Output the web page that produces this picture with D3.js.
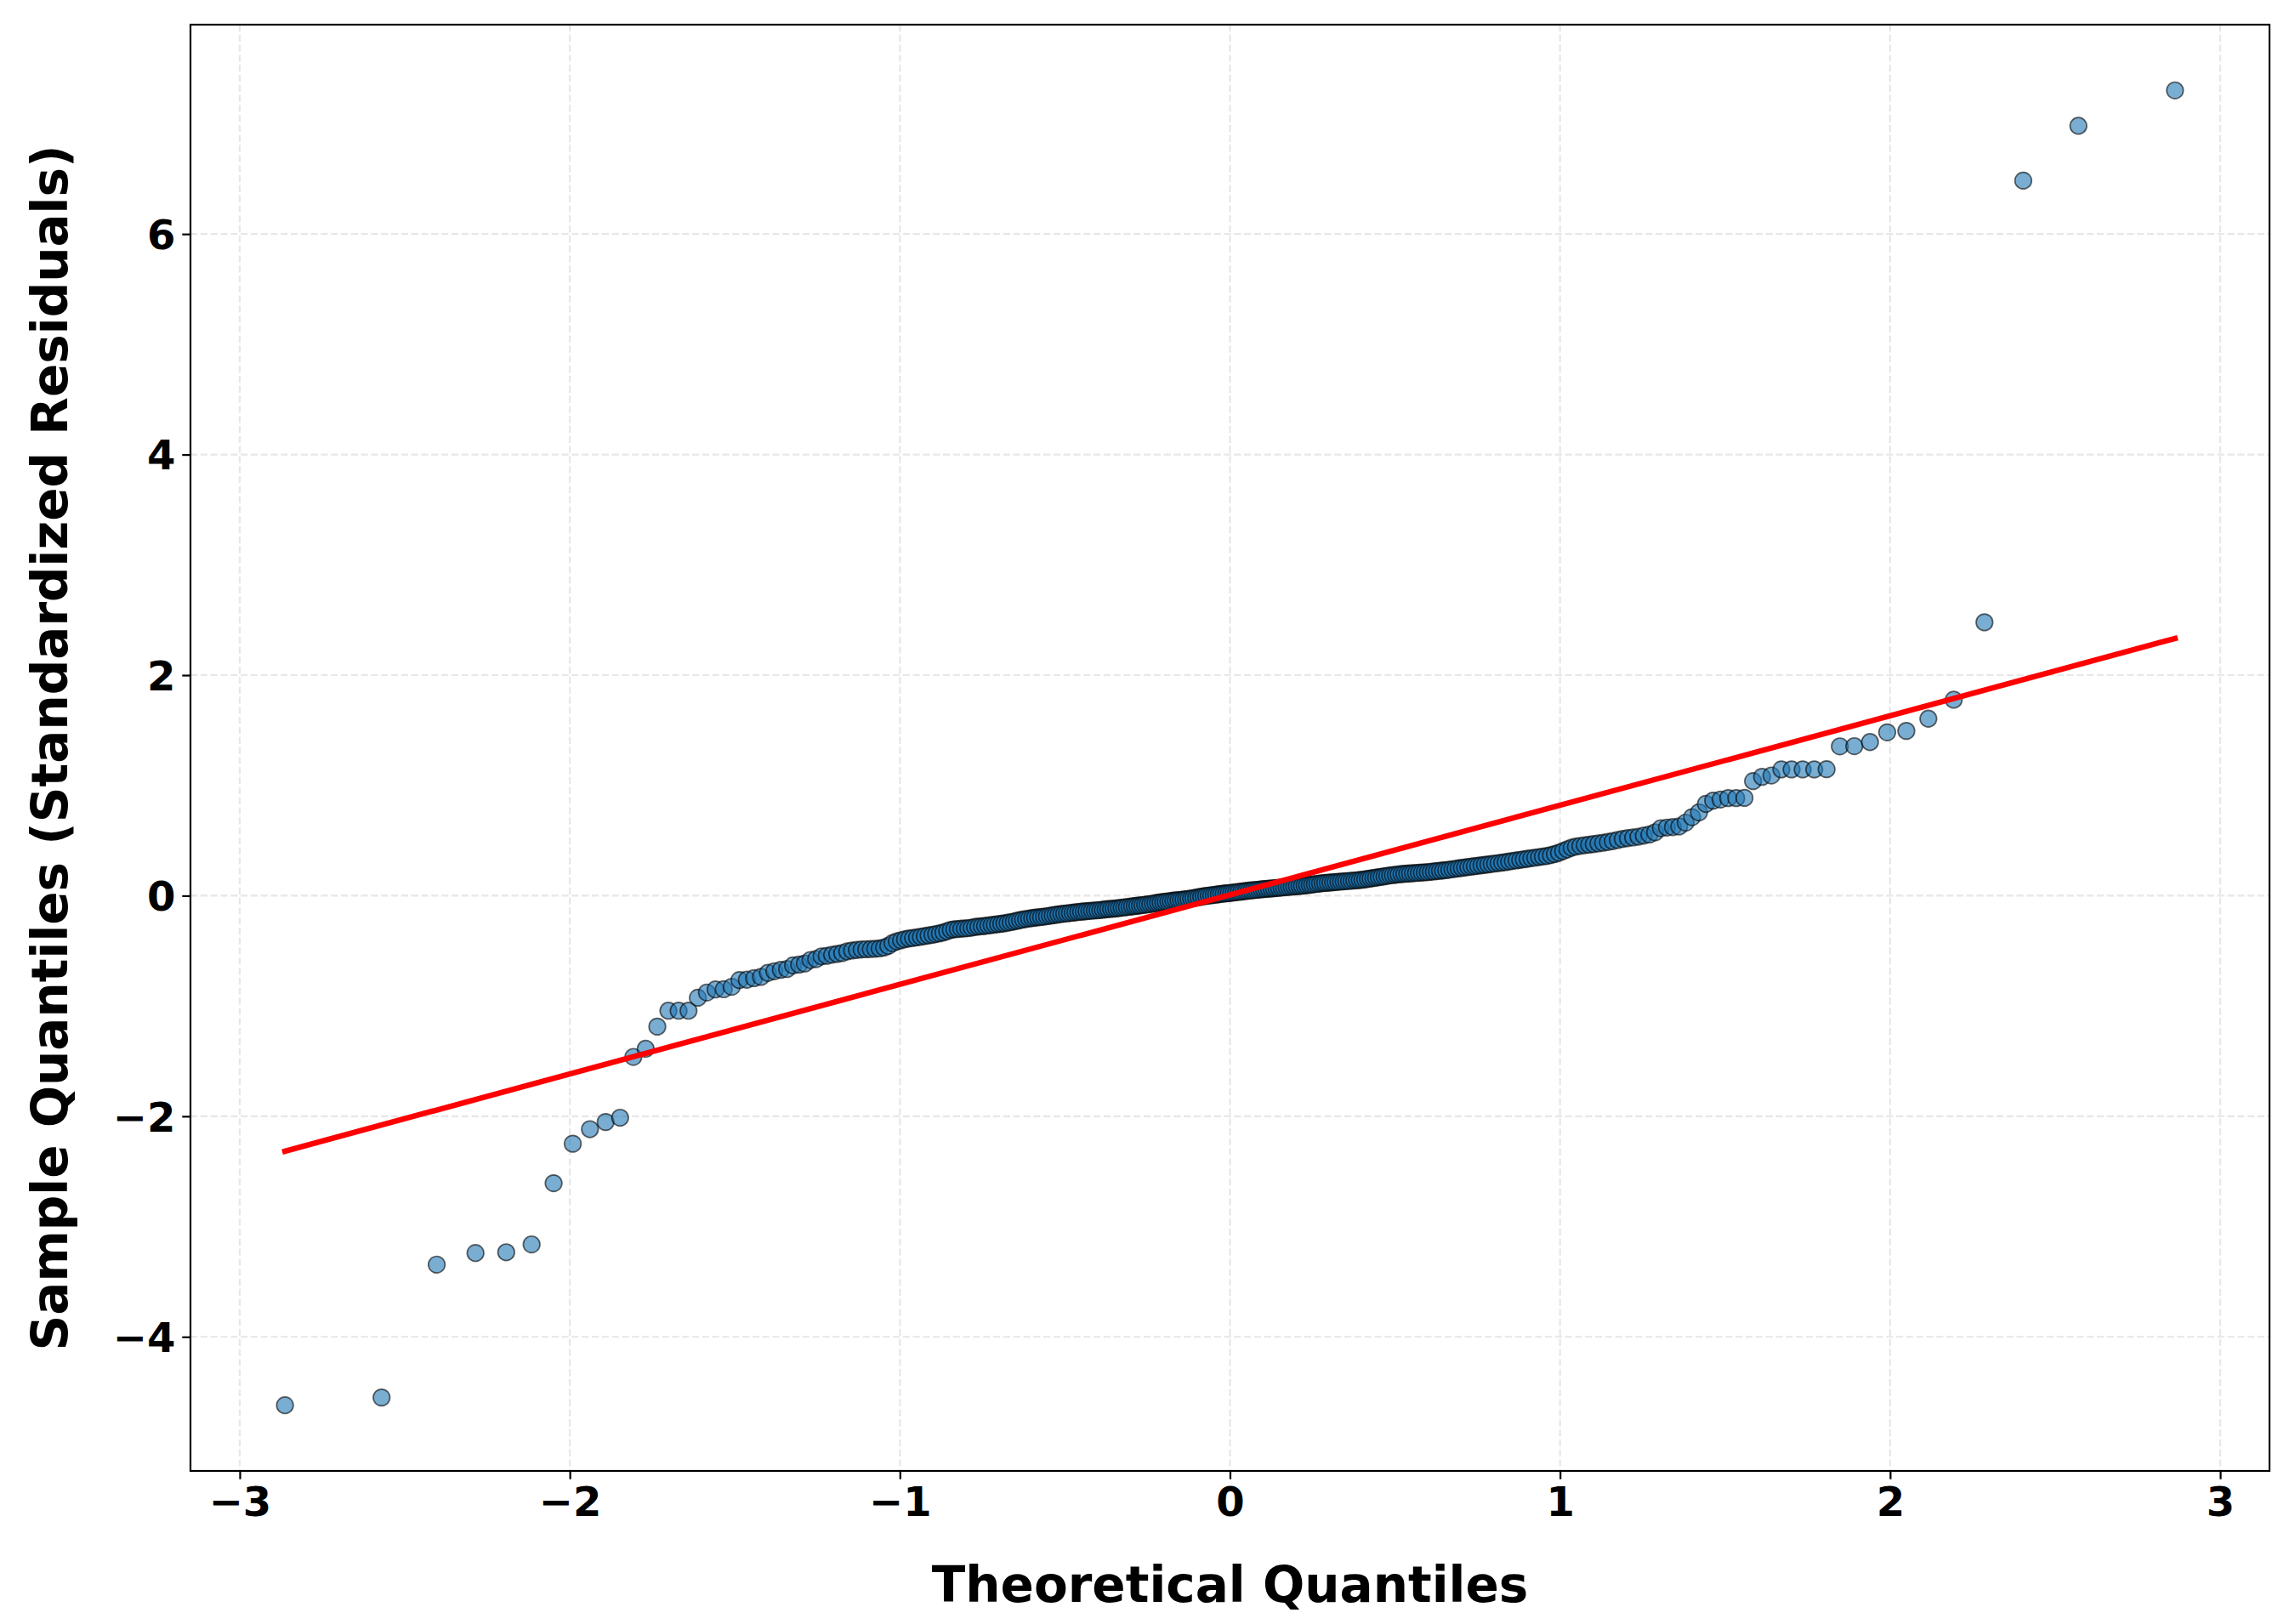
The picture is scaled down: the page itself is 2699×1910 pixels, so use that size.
<!DOCTYPE html>
<html><head><meta charset="utf-8">
<script src="https://cdn.jsdelivr.net/npm/d3@7"></script>
<style>
body{margin:0;background:#fff}
svg{display:block}
text{font-family:"DejaVu Sans",sans-serif;font-weight:bold}
</style>
</head><body><div id="chart"></div>
<script>
// Theoretical quantiles (x) read/, n = 330
const theoreticalQuantiles = [
-2.863,-2.5703,-2.4033,-2.2858,-2.1927,-2.1158,-2.0491,-1.9911,-1.9390,-1.8915,
-1.8477,-1.8075,-1.7702,-1.7350,-1.7014,-1.6704,-1.6404,-1.6120,-1.5848,-1.5586,
-1.5337,-1.5094,-1.4862,-1.4637,-1.4418,-1.4209,-1.3999,-1.3804,-1.3609,-1.3419,
-1.3237,-1.3054,-1.2880,-1.2709,-1.2538,-1.2375,-1.2214,-1.2053,-1.1899,-1.1748,
-1.1596,-1.1448,-1.1305,-1.1162,-1.1020,-1.0883,-1.0748,-1.0613,-1.0479,-1.0351,
-1.0222,-1.0094,-0.9967,-0.9845,-0.9723,-0.9601,-0.9480,-0.9364,-0.9247,-0.9131,
-0.9014,-0.8902,-0.8791,-0.8680,-0.8569,-0.8459,-0.8353,-0.8246,-0.8139,-0.8033,
-0.7929,-0.7827,-0.7724,-0.7622,-0.7519,-0.7420,-0.7321,-0.7222,-0.7124,-0.7025,
-0.6929,-0.6834,-0.6738,-0.6643,-0.6548,-0.6454,-0.6362,-0.6269,-0.6177,-0.6085,
-0.5993,-0.5903,-0.5814,-0.5724,-0.5635,-0.5545,-0.5457,-0.5370,-0.5283,-0.5196,
-0.5109,-0.5022,-0.4936,-0.4851,-0.4766,-0.4681,-0.4596,-0.4511,-0.4428,-0.4345,
-0.4262,-0.4179,-0.4096,-0.4013,-0.3931,-0.3850,-0.3768,-0.3687,-0.3606,-0.3524,
-0.3444,-0.3364,-0.3284,-0.3204,-0.3124,-0.3044,-0.2964,-0.2885,-0.2807,-0.2728,
-0.2649,-0.2570,-0.2491,-0.2414,-0.2336,-0.2258,-0.2180,-0.2102,-0.2025,-0.1947,
-0.1870,-0.1793,-0.1716,-0.1639,-0.1562,-0.1485,-0.1409,-0.1332,-0.1256,-0.1179,
-0.1103,-0.1026,-0.0950,-0.0874,-0.0798,-0.0722,-0.0646,-0.0569,-0.0493,-0.0417,
-0.0342,-0.0266,-0.0190,-0.0114,-0.0038,
0.0038,0.0114,0.0190,0.0266,0.0342,0.0417,0.0493,0.0569,0.0646,0.0722,
0.0798,0.0874,0.0950,0.1026,0.1103,0.1179,0.1256,0.1332,0.1409,0.1485,
0.1562,0.1639,0.1716,0.1793,0.1870,0.1947,0.2025,0.2102,0.2180,0.2258,
0.2336,0.2414,0.2491,0.2570,0.2649,0.2728,0.2807,0.2885,0.2964,0.3044,
0.3124,0.3204,0.3284,0.3364,0.3444,0.3524,0.3606,0.3687,0.3768,0.3850,
0.3931,0.4013,0.4096,0.4179,0.4262,0.4345,0.4428,0.4511,0.4596,0.4681,
0.4766,0.4851,0.4936,0.5022,0.5109,0.5196,0.5283,0.5370,0.5457,0.5545,
0.5635,0.5724,0.5814,0.5903,0.5993,0.6085,0.6177,0.6269,0.6362,0.6454,
0.6548,0.6643,0.6738,0.6834,0.6929,0.7025,0.7124,0.7222,0.7321,0.7420,
0.7519,0.7622,0.7724,0.7827,0.7929,0.8033,0.8139,0.8246,0.8353,0.8459,
0.8569,0.8680,0.8791,0.8902,0.9014,0.9131,0.9247,0.9364,0.9480,0.9601,
0.9723,0.9845,0.9967,1.0094,1.0222,1.0351,1.0479,1.0613,1.0748,1.0883,
1.1020,1.1162,1.1305,1.1448,1.1596,1.1748,1.1899,1.2053,1.2214,1.2375,
1.2538,1.2709,1.2880,1.3054,1.3237,1.3419,1.3609,1.3804,1.3999,1.4209,
1.4418,1.4637,1.4862,1.5094,1.5337,1.5586,1.5848,1.6120,1.6404,1.6704,
1.7014,1.7350,1.7702,1.8075,1.8477,1.8915,1.9390,1.9911,2.0491,2.1158,
2.1927,2.2858,2.4033,2.5703,2.863
];
// Ordered standardized residuals (y)
const sampleQuantiles = [
-4.62,-4.55,-3.345,-3.24,-3.233,-3.162,-2.607,-2.249,-2.117,-2.052,
-2.013,-1.462,-1.388,-1.187,-1.043,-1.043,-1.043,-0.925,-0.878,-0.85,
-0.848,-0.826,-0.765,-0.762,-0.748,-0.736,-0.70,-0.685,-0.672,-0.665,
-0.632,-0.625,-0.615,-0.583,-0.575,-0.55,-0.545,-0.535,-0.528,-0.52,
-0.505,-0.497,-0.492,-0.488,-0.486,-0.484,-0.481,-0.478,-0.47,-0.455,
-0.43,-0.415,-0.405,-0.395,-0.388,-0.383,-0.378,-0.372,-0.366,-0.36,
-0.354,-0.348,-0.341,-0.333,-0.322,-0.31,-0.305,-0.302,-0.299,-0.297,
-0.294,-0.29,-0.284,-0.28,-0.277,-0.274,-0.27,-0.266,-0.262,-0.258,
-0.254,-0.25,-0.245,-0.24,-0.234,-0.228,-0.222,-0.216,-0.211,-0.207,
-0.203,-0.199,-0.196,-0.193,-0.19,-0.186,-0.182,-0.178,-0.174,-0.17,
-0.166,-0.163,-0.16,-0.157,-0.154,-0.151,-0.148,-0.145,-0.143,-0.14,
-0.138,-0.136,-0.134,-0.132,-0.13,-0.127,-0.124,-0.121,-0.119,-0.117,
-0.115,-0.112,-0.109,-0.106,-0.103,-0.10,-0.097,-0.094,-0.091,-0.088,
-0.085,-0.082,-0.079,-0.076,-0.072,-0.068,-0.064,-0.06,-0.057,-0.054,
-0.051,-0.048,-0.045,-0.042,-0.04,-0.038,-0.035,-0.032,-0.029,-0.026,
-0.022,-0.018,-0.014,-0.01,-0.006,-0.002,0.001,0.004,0.007,0.01,
0.013,0.016,0.019,0.021,0.023,
0.026,0.029,0.032,0.035,0.037,0.04,0.043,0.046,0.048,0.051,
0.053,0.055,0.058,0.06,0.062,0.064,0.066,0.068,0.07,0.072,
0.074,0.076,0.078,0.08,0.082,0.084,0.086,0.088,0.09,0.093,
0.096,0.099,0.102,0.105,0.108,0.111,0.114,0.116,0.118,0.12,
0.122,0.124,0.126,0.128,0.13,0.132,0.134,0.136,0.138,0.14,
0.142,0.145,0.148,0.152,0.156,0.16,0.164,0.168,0.172,0.176,
0.18,0.184,0.187,0.19,0.193,0.196,0.198,0.2,0.202,0.204,
0.206,0.208,0.21,0.212,0.214,0.217,0.22,0.223,0.226,0.229,
0.232,0.236,0.24,0.244,0.248,0.252,0.256,0.26,0.264,0.268,
0.272,0.276,0.28,0.284,0.288,0.292,0.296,0.3,0.305,0.31,
0.315,0.32,0.325,0.33,0.335,0.34,0.345,0.35,0.355,0.36,
0.368,0.378,0.39,0.405,0.42,0.435,0.445,0.452,0.458,0.463,
0.468,0.474,0.48,0.487,0.495,0.505,0.515,0.522,0.528,0.535,
0.545,0.555,0.575,0.612,0.618,0.622,0.628,0.662,0.712,0.756,
0.832,0.862,0.872,0.885,0.885,0.887,1.039,1.078,1.09,1.145,
1.145,1.145,1.145,1.147,1.354,1.356,1.393,1.481,1.494,1.605,
1.777,2.479,6.484,6.981,7.302
];
// Fitted reference line
const fitSlope = 0.812;
const fitIntercept = 0.008;

const xTicks = [-3, -2, -1, 0, 1, 2, 3];
const yTicks = [-4, -2, 0, 2, 4, 6];
const xLabel = "Theoretical Quantiles";
const yLabel = "Sample Quantiles (Standardized Residuals)";

const W = 2699, H = 1910;
const plot = {left: 224, right: 2669, top: 29, bottom: 1730};

const points = theoreticalQuantiles.map((t, i) => ({t, s: sampleQuantiles[i]}));

const [tMin, tMax] = d3.extent(theoreticalQuantiles);
const [sMin, sMax] = d3.extent(sampleQuantiles);
const tPad = 0.05 * (tMax - tMin), sPad = 0.05 * (sMax - sMin);

const x = d3.scaleLinear().domain([tMin - tPad, tMax + tPad]).range([plot.left, plot.right]);
const y = d3.scaleLinear().domain([sMin - sPad, sMax + sPad]).range([plot.bottom, plot.top]);

const svg = d3.select("#chart").append("svg")
  .attr("width", W).attr("height", H)
  .attr("viewBox", `0 0 ${W} ${H}`);
svg.append("rect").attr("width", W).attr("height", H).attr("fill", "#fff");

// grid
const grid = svg.append("g").attr("stroke", "#b0b0b0").attr("stroke-opacity", 0.3)
  .attr("stroke-width", 2.2).attr("stroke-dasharray", "8.2,3.6");
grid.selectAll("line.gx").data(xTicks).join("line").attr("class", "gx")
  .attr("x1", d => x(d)).attr("x2", d => x(d))
  .attr("y1", plot.top).attr("y2", plot.bottom);
grid.selectAll("line.gy").data(yTicks).join("line").attr("class", "gy")
  .attr("y1", d => y(d)).attr("y2", d => y(d))
  .attr("x1", plot.left).attr("x2", plot.right);

// points
svg.append("g").selectAll("circle").data(points).join("circle")
  .attr("cx", d => x(d.t)).attr("cy", d => y(d.s)).attr("r", 9.8)
  .attr("fill", "#1f77b4").attr("fill-opacity", 0.6)
  .attr("stroke", "#000").attr("stroke-opacity", 0.6).attr("stroke-width", 1.7);

// fitted line
const line = d3.line().x(d => x(d)).y(d => y(fitIntercept + fitSlope * d));
svg.append("path").datum([tMin, tMax]).attr("d", line)
  .attr("fill", "none").attr("stroke", "#ff0000").attr("stroke-width", 6.5)
  .attr("stroke-linecap", "square");

// frame
svg.append("rect").attr("x", plot.left).attr("y", plot.top)
  .attr("width", plot.right - plot.left).attr("height", plot.bottom - plot.top)
  .attr("fill", "none").attr("stroke", "#000").attr("stroke-width", 2.2);

// axes
const fmt = d3.format("d");
const xAxis = svg.append("g").attr("transform", `translate(0,${plot.bottom})`)
  .call(d3.axisBottom(x).tickValues(xTicks).tickFormat(fmt).tickSize(9.7).tickPadding(9.7));
const yAxis = svg.append("g").attr("transform", `translate(${plot.left},0)`)
  .call(d3.axisLeft(y).tickValues(yTicks).tickFormat(fmt).tickSize(9.7).tickPadding(8));
[xAxis, yAxis].forEach(a => {
  a.select(".domain").remove();
  a.selectAll(".tick line").attr("stroke", "#000").attr("stroke-width", 2.2);
  a.selectAll(".tick text").attr("fill", "#000").style("font-size", "48px")
    .style("font-family", '"DejaVu Sans", sans-serif').style("font-weight", "bold");
});
yAxis.selectAll(".tick text").attr("dy", "0.36em");

// labels
svg.append("text").attr("x", (plot.left + plot.right) / 2).attr("y", 1884)
  .attr("text-anchor", "middle").style("font-size", "58px").attr("fill", "#000").text(xLabel);
svg.append("text").attr("transform", `translate(79,${(plot.top + plot.bottom) / 2}) rotate(-90)`)
  .attr("text-anchor", "middle").style("font-size", "58px").attr("fill", "#000").text(yLabel);
</script>
</body></html>
